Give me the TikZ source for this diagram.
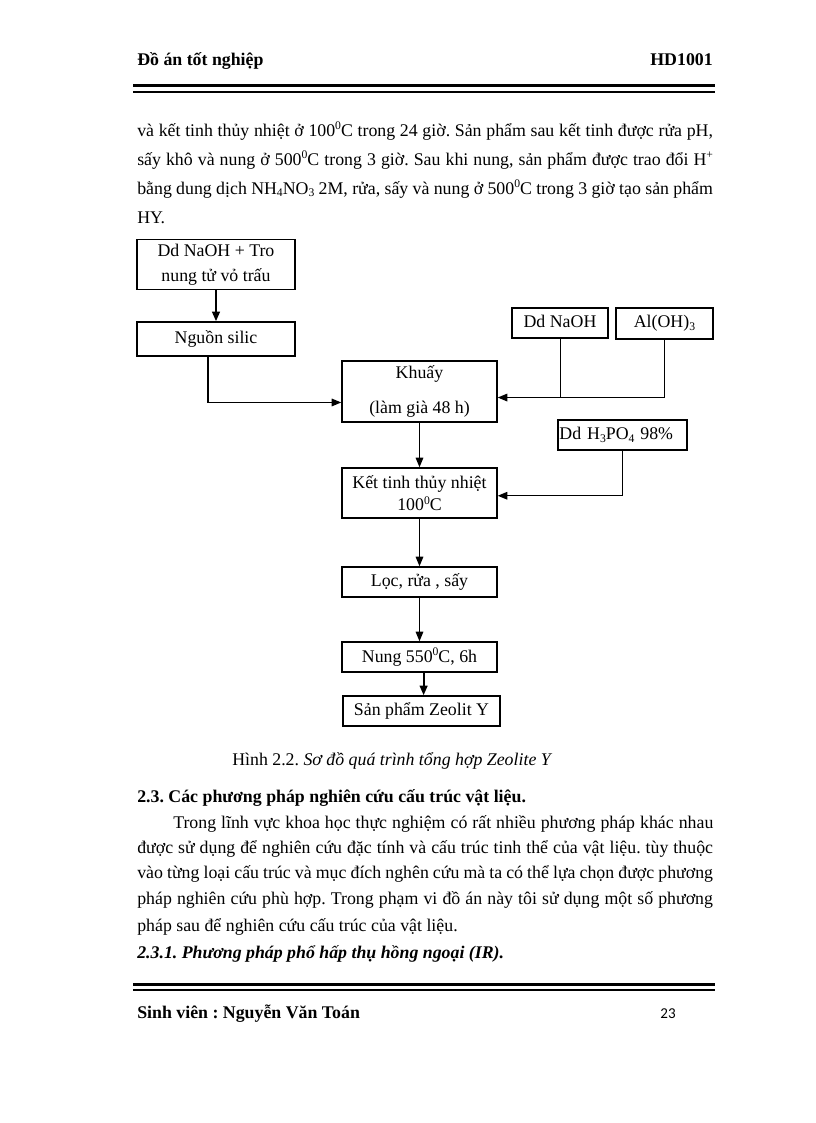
\documentclass[tikz,border=0pt]{standalone}
\usepackage{fontspec}
\setmainfont{Liberation Serif}
\newfontfamily\pagenumfont{Carlito}
\usetikzlibrary{arrows.meta,positioning}
\frenchspacing
\tikzset{
  box/.style={draw, line width=1pt, inner sep=1pt, align=center, font=\fontsize{13}{17}\selectfont},
  arr/.style={-{Triangle[length=7pt,width=5.5pt]}, line width=1pt},
  txt/.style={anchor=base west, inner sep=0pt, font=\fontsize{13}{15}\selectfont},
  boldtxt/.style={txt, font=\fontsize{13}{15}\selectfont\bfseries},
}
\newcommand{\jline}[2][420pt]{\makebox[#1][s]{#2}}
\newcommand{\lo}[1]{\raisebox{-0.35ex}{\fontsize{8.5}{9}\selectfont #1}}
\newcommand{\hi}[1]{\raisebox{0.75ex}{\fontsize{8.5}{9}\selectfont #1}}

\begin{document}
\begin{tikzpicture}[x=0.7295pt, y=-0.7295pt]
\useasboundingbox (0,0) rectangle (816,1123);
% header
\node[boldtxt] (head) at (137,65) {Đồ án tốt nghiệp};
\node[boldtxt, anchor=base east] (code) at (713,65) {HD1001};
\draw[line width=2.2pt] (133,85.8) -- (715,85.8);
\draw[line width=1.2pt] (133,92) -- (715,92);
% text above the chart
\node[txt] (l1) at (137,136) {\jline{và kết tinh thủy nhiệt ở 100\hi{0}C trong 24 giờ. Sản phẩm sau kết tinh được rửa pH,}};
\node[txt] (l2) at (137,165) {\jline{sấy khô và nung ở 500\hi{0}C trong 3 giờ. Sau khi nung, sản phẩm được trao đổi H\hi{+}}};
\node[txt] (l3) at (137,194) {\jline{bằng dung dịch NH\lo{4}NO\lo{3} 2M, rửa, sấy và nung ở 500\hi{0}C trong 3 giờ tạo sản phẩm}};
\node[txt] (l4) at (137,223) {HY.};
% chart
\node[box, minimum width=115.3pt, minimum height=36.5pt, font=\fontsize{13}{18}\selectfont] (tro) at (216,264.5) {Dd NaOH + Tro\\nung tử vỏ trấu};
\node[box, minimum width=115.3pt, minimum height=24.8pt] (silic) at (216,339) {Nguồn silic};
\node[box, minimum width=113.1pt, minimum height=44.5pt] (khuay) at (419.5,391.5) {Khuấy\\[8pt](làm già 48 h)};
\node[box, minimum width=70pt, minimum height=21.9pt] (naoh) at (560,323) {\raisebox{3pt}{Dd NaOH}};
\node[box, minimum width=70.8pt, minimum height=22.6pt] (aloh) at (664.5,323.5) {Al(OH)\lo{3}};
\node[box, minimum width=94.1pt, minimum height=21.9pt, align=left, text width=92pt] (acid) at (622.5,435) {Dd H\lo{3}PO\lo{4} 98\%};
\node[box, minimum width=113.1pt, minimum height=36.5pt, font=\fontsize{13}{16}\selectfont] (kettinh) at (419.5,493) {Kết tinh thủy nhiệt\\100\hi{0}C};
\node[box, minimum width=113.1pt, minimum height=21.9pt] (loc) at (419.5,582) {Lọc, rửa , sấy};
\node[box, minimum width=113.1pt, minimum height=21.9pt] (nung) at (419.5,657) {Nung 550\hi{0}C, 6h};
\node[box, minimum width=114.5pt, minimum height=21.9pt] (sp) at (421.5,711) {Sản phẩm Zeolit Y};
\coordinate (mixin) at ([yshift=-4.4pt]khuay.east);
\draw[arr, line width=1.6pt] (tro) -- (silic);
\draw[arr] ([xshift=-5.8pt]silic.south) |- ([yshift=-8pt]khuay.west);
\draw[arr] (aloh) |- (mixin);
\draw (naoh) -- (naoh |- mixin);
\draw[arr] (acid) |- ([yshift=-2pt]kettinh.east);
\draw[arr] (khuay) -- (kettinh);
\draw[arr] (kettinh) -- (loc);
\draw[arr] (loc) -- (nung);
\draw[arr, line width=1.6pt] ([xshift=3pt]nung.south) -- ([xshift=3pt]nung.south |- sp.north);
% caption and text below
\node[txt] (cap) at (232,765) {Hình 2.2. \textit{Sơ đồ quá trình tổng hợp Zeolite Y}};
\node[boldtxt] (sec) at (137,802) {2.3. Các phương pháp nghiên cứu cấu trúc vật liệu.};
\node[txt] (p1) at (173,828) {\jline[394pt]{Trong lĩnh vực khoa học thực nghiệm có rất nhiều phương pháp khác nhau}};
\node[txt] (p2) at (137,853) {\jline{được sử dụng để nghiên cứu đặc tính và cấu trúc tinh thể của vật liệu. tùy thuộc}};
\node[txt] (p3) at (137,878) {\jline{vào từng loại cấu trúc và mục đích nghên cứu mà ta có thể lựa chọn được phương}};
\node[txt] (p4) at (137,904) {\jline{pháp nghiên cứu phù hợp. Trong phạm vi đồ án này tôi sử dụng một số phương}};
\node[txt] (p5) at (137,931) {pháp sau để nghiên cứu cấu trúc của vật liệu.};
\node[boldtxt] (sub) at (137,958) {\itshape 2.3.1. Phương pháp phổ hấp thụ hồng ngoại (IR).};
% footer
\draw[line width=2.2pt] (133,984) -- (715,984);
\draw[line width=1.2pt] (133,990) -- (715,990);
\node[boldtxt] (name) at (137,1018) {Sinh viên : Nguyễn Văn Toán};
\node[txt, anchor=base east, font=\fontsize{11}{13}\pagenumfont] (page) at (676,1018) {23};
\end{tikzpicture}
\end{document}
